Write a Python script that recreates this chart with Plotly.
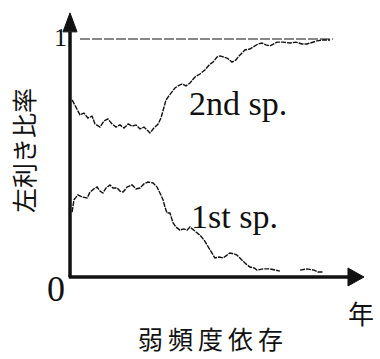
import plotly.graph_objects as go

# years (0-100 scale) and left-handed proportion
sp2_t = [0.8, 2.3, 3.8, 5.3, 6.8, 8.4, 9.5, 11.4, 12.9, 14.4, 16.0, 17.5, 19.0, 20.5, 22.1, 23.6,
         25.1, 26.6, 28.1, 29.7, 30.4, 31.9, 33.5, 34.6, 35.4, 36.5, 37.6, 38.8, 39.9, 41.1, 42.6,
         44.1, 45.6, 47.5, 49.4, 51.3, 52.9, 54.4, 55.9, 57.0, 58.6, 59.7, 61.6, 63.1, 63.9, 65.4,
         66.5, 68.4, 69.6, 71.5, 73.0, 74.5, 76.0, 77.6, 78.7, 81.0, 83.7, 85.9, 88.2, 90.1, 92.0,
         93.9, 96.2, 98.9]
sp2_v = [0.744, 0.710, 0.681, 0.689, 0.668, 0.676, 0.643, 0.630, 0.655, 0.664, 0.643, 0.630,
         0.639, 0.626, 0.643, 0.634, 0.639, 0.622, 0.630, 0.613, 0.605, 0.626, 0.643, 0.668, 0.702,
         0.744, 0.761, 0.777, 0.794, 0.803, 0.811, 0.803, 0.815, 0.840, 0.853, 0.870, 0.891, 0.903,
         0.924, 0.929, 0.924, 0.920, 0.903, 0.912, 0.924, 0.941, 0.954, 0.958, 0.966, 0.979, 0.983,
         0.975, 0.971, 0.979, 0.987, 0.987, 0.983, 0.987, 0.979, 0.979, 0.987, 0.992, 0.996, 0.996]

sp1_t = [0.8, 1.5, 3.0, 4.6, 6.5, 7.6, 9.1, 10.3, 11.4, 12.5, 13.7, 15.2, 16.3, 17.9, 19.0, 20.2,
         21.7, 23.6, 25.1, 26.6, 28.1, 29.7, 31.6, 33.1, 34.2, 35.4, 36.1, 36.9, 38.0, 39.2, 40.3,
         41.8, 43.3, 44.5, 45.6, 47.5, 49.4, 51.0, 52.1, 53.6, 55.1, 56.7, 58.2, 59.7, 60.8, 62.4,
         63.5, 64.6, 65.4, 66.9, 68.4, 70.0, 71.1, 73.4, 76.0, 77.9, 79.8, None, 87.5, 90.1, 92.8,
         94.3, 96.2]
sp1_v = [0.273, 0.324, 0.345, 0.336, 0.332, 0.357, 0.370, 0.378, 0.361, 0.353, 0.374, 0.387,
         0.374, 0.374, 0.361, 0.357, 0.378, 0.387, 0.370, 0.374, 0.391, 0.399, 0.395, 0.378, 0.353,
         0.324, 0.294, 0.269, 0.269, 0.227, 0.210, 0.197, 0.202, 0.197, 0.210, 0.193, 0.176, 0.155,
         0.134, 0.105, 0.080, 0.084, 0.080, 0.092, 0.101, 0.097, 0.092, 0.080, 0.071, 0.055, 0.042,
         0.038, 0.029, 0.034, 0.034, 0.029, 0.025, None, 0.029, 0.034, 0.029, 0.021, 0.021]

ref_t = [3.8, 100]
ref_v = [1, 1]

series_labels = ["2nd sp.", "1st sp."]
y_tick_labels = ["0", "1"]
y_title = "左利き比率"
x_title = "弱\u2009頻\u2009度\u2009依\u2009存"
x_unit = "年"

X_RANGE = [-26.62, 117.87]
Y_RANGE = [-0.3445, 1.1639]
INK = "#111111"

fig = go.Figure()
fig.add_trace(go.Scatter(x=ref_t, y=ref_v, mode="lines",
                         line=dict(color=INK, width=1, dash="10px,2px"), hoverinfo="skip"))
fig.add_trace(go.Scatter(x=sp2_t, y=sp2_v, mode="lines",
                         line=dict(color=INK, width=1.4, dash="5px,1px"), connectgaps=False))
fig.add_trace(go.Scatter(x=sp1_t, y=sp1_v, mode="lines",
                         line=dict(color=INK, width=1.4, dash="5px,1px"), connectgaps=False))

# axes lines
fig.add_shape(type="line", x0=0, y0=0, x1=0, y1=1.03, line=dict(color=INK, width=3.5))
fig.add_shape(type="line", x0=-0.5, y0=0, x1=105.7, y1=0, line=dict(color=INK, width=3.5))
# arrowheads
fig.add_shape(type="path", xsizemode="pixel", ysizemode="pixel", xanchor=0, yanchor=1.03,
              path="M-7,0 L7,0 L0,19 Z", fillcolor=INK, line=dict(color=INK, width=1))
fig.add_shape(type="path", xsizemode="pixel", ysizemode="pixel", xanchor=105.7, yanchor=0,
              path="M0,-9 L0,9 L16,0 Z", fillcolor=INK, line=dict(color=INK, width=1))

serif = "Liberation Serif"
cjk = "Noto Sans CJK JP"

def ann(text, px, py, size, family, xanchor="center", angle=0):
    fig.add_annotation(text=text, xref="paper", yref="paper", x=px / 380, y=1 - py / 359,
                       xanchor=xanchor, yanchor="middle", showarrow=False, textangle=angle,
                       font=dict(family=family, size=size, color=INK))

ann(series_labels[0], 187, 103, 34, serif, xanchor="left")
ann(series_labels[1], 189, 216, 34, serif, xanchor="left")
ann(y_tick_labels[1], 60, 38, 26, serif)
ann(y_tick_labels[0], 56, 289, 36, serif)
ann(x_unit, 361, 312, 26, cjk)
ann(x_title, 210, 338, 25, cjk)
ann(y_title, 23, 151, 25, cjk, angle=-90)

fig.update_layout(width=380, height=359, margin=dict(l=0, r=0, t=0, b=0),
                  paper_bgcolor="white", plot_bgcolor="white", showlegend=False,
                  xaxis=dict(range=X_RANGE, visible=False, fixedrange=True),
                  yaxis=dict(range=Y_RANGE, visible=False, fixedrange=True))
fig.write_html("out.html", config={"displayModeBar": False},
               post_script="document.body.style.margin='0';document.body.style.overflow='hidden';")
